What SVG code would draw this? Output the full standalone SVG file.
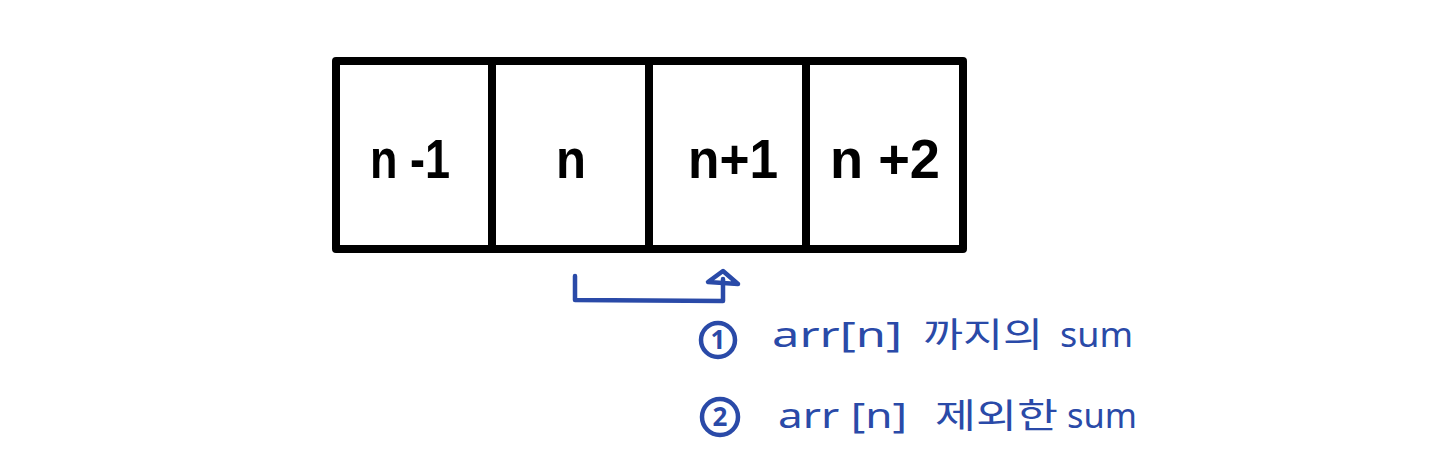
<svg xmlns="http://www.w3.org/2000/svg" width="1456" height="475" viewBox="0 0 1456 475">
<style>
.cell{fill:#fff;stroke:#000;stroke-width:8;stroke-linejoin:round}
.lbl{font-family:"Liberation Sans","Noto Sans",sans-serif;font-size:56px;fill:#000;font-weight:bold}
.note{font-family:"Noto Sans","Noto Sans CJK KR",sans-serif;font-size:34px;fill:#2a4aa8}
.num{font-family:"Noto Sans",sans-serif;font-size:26px;fill:#2a4aa8;text-anchor:middle;font-weight:bold}
.blue{fill:none;stroke:#2a4aa8;stroke-width:4.5;stroke-linecap:round;stroke-linejoin:round}
</style>
<rect width="1456" height="475" fill="#fff"/>
<g id="cell-n-1"><rect class="cell" x="336" y="61" width="156" height="188"/><text class="lbl" x="370" y="178" textLength="80" lengthAdjust="spacingAndGlyphs">n -1</text></g>
<g id="cell-n"><rect class="cell" x="492" y="61" width="157" height="188"/><text class="lbl" x="556" y="178" textLength="30" lengthAdjust="spacingAndGlyphs">n</text></g>
<g id="cell-n+1"><rect class="cell" x="649" y="61" width="157" height="188"/><text class="lbl" x="688" y="178" textLength="90" lengthAdjust="spacingAndGlyphs">n+1</text></g>
<g id="cell-n+2"><rect class="cell" x="806" y="61" width="157" height="188"/><text class="lbl" x="830" y="178" textLength="110" lengthAdjust="spacingAndGlyphs">n +2</text></g>
<g id="connectors">
<path class="blue" d="M575,276 L575,300 L723,301 L723,279"/>
<path class="blue" d="M723,271 L708,282 L738,284 Z"/>
</g>
<g id="note1">
<circle class="blue" cx="718" cy="340" r="17"/>
<text class="num" x="718" y="349">1</text>
<text class="note" x="772" y="347" textLength="130" lengthAdjust="spacingAndGlyphs">arr[n]</text>
<text class="note" x="923" y="347" textLength="120" lengthAdjust="spacingAndGlyphs">까지의</text>
<text class="note" x="1060" y="347" textLength="73" lengthAdjust="spacingAndGlyphs">sum</text>
</g>
<g id="note2">
<circle class="blue" cx="720" cy="417" r="18"/>
<text class="num" x="720" y="426">2</text>
<text class="note" x="778" y="428" textLength="129" lengthAdjust="spacingAndGlyphs">arr [n]</text>
<text class="note" x="935" y="428" textLength="123" lengthAdjust="spacingAndGlyphs">제외한</text>
<text class="note" x="1067" y="428" textLength="70" lengthAdjust="spacingAndGlyphs">sum</text>
</g>
</svg>
